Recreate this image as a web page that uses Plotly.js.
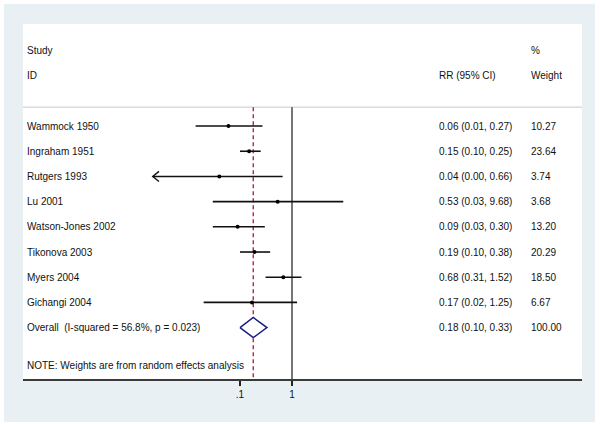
<!DOCTYPE html>
<html>
<head>
<meta charset="utf-8">
<script src="https://cdn.plot.ly/plotly-3.0.1.min.js"></script>
<style>
  body { margin: 0; background: #ffffff; }
  #forest { position: absolute; left: 4px; top: 4px; width: 591px; height: 418px; }
</style>
</head>
<body>
<div id="forest"></div>
<script>
// Study data (risk ratios)
const studies = ["Wammock 1950", "Ingraham 1951", "Rutgers 1993", "Lu 2001",
                 "Watson-Jones 2002", "Tikonova 2003", "Myers 2004", "Gichangi 2004"];
const rr    = [0.06, 0.15, 0.04, 0.53, 0.09, 0.19, 0.68, 0.17];
const lower = [0.014, 0.10, 0.001, 0.03, 0.03, 0.10, 0.31, 0.02];
const upper = [0.27, 0.25, 0.66, 9.68, 0.30, 0.38, 1.52, 1.25];
const weights = [10.27, 23.64, 3.74, 3.68, 13.20, 20.29, 18.50, 6.67];

const overallLabel = "Overall  (I-squared = 56.8%, p = 0.023)";
const overallRR = 0.18, overallLo = 0.10, overallHi = 0.33, overallW = 100.00;
const noteText = "NOTE: Weights are from random effects analysis";

const tickVals = [0.1, 1];
const tickText = [".1", "1"];

// display limits
const clipMin = 0.0021;
const xRange = [-5.173, 5.577];
const yRange = [11.04, -3.05];
const txtFont = { family: "Liberation Sans, Arial, sans-serif", size: 10, color: "#111" };

const rows = studies.map((s, i) => i + 1);
const overallRow = studies.length + 1;
const noteRow = overallRow + 1.5;

// CI lines, with an arrow where the interval runs off the left edge
const ciX = [], ciY = [];
const arrX = [], arrY = [];
rows.forEach((r, i) => {
  const lo = Math.max(lower[i], clipMin);
  ciX.push(lo, upper[i], null);
  ciY.push(r, r, null);
  if (lower[i] < clipMin) {
    const back = clipMin * Math.pow(10, 0.12);
    arrX.push(back, clipMin, back, null);
    arrY.push(r - 0.2, r, r + 0.2, null);
  }
});

const traces = [
  { x: ciX, y: ciY, mode: "lines", line: { color: "#111", width: 1.6 }, hoverinfo: "skip" },
  { x: arrX, y: arrY, mode: "lines", line: { color: "#111", width: 1.4 }, hoverinfo: "skip" },
  { x: rr, y: rows, mode: "markers", marker: { color: "#000", size: 4 } },
  {
    x: [overallLo, overallRR, overallHi, overallRR, overallLo],
    y: [overallRow, overallRow - 0.4, overallRow, overallRow + 0.4, overallRow],
    mode: "lines", fill: "toself", fillcolor: "#ffffff",
    line: { color: "#1c1c80", width: 1.5 }, hoverinfo: "skip"
  }
];

const fmt = v => v.toFixed(2);
const annotations = [];
function addText(xp, y, text) {
  annotations.push({ xref: "paper", yref: "y", x: xp, y: y, text: text, showarrow: false,
                     xanchor: "left", yanchor: "middle", font: txtFont });
}
addText(0.004, -2, "Study");
addText(0.004, -1, "ID");
addText(0.905, -2, "%");
addText(0.741, -1, "RR (95% CI)");
addText(0.905, -1, "Weight");
studies.forEach((s, i) => {
  addText(0.004, rows[i], s);
  addText(0.741, rows[i], `${fmt(rr[i])} (${fmt(lower[i])}, ${fmt(upper[i])})`);
  addText(0.905, rows[i], fmt(weights[i]));
});
addText(0.004, overallRow, overallLabel);
addText(0.741, overallRow, `${fmt(overallRR)} (${fmt(overallLo)}, ${fmt(overallHi)})`);
addText(0.905, overallRow, fmt(overallW));
addText(0.004, noteRow, noteText);

const shapes = [
  // header separator
  { type: "line", xref: "paper", yref: "y", x0: 0, x1: 1, y0: 0.25, y1: 0.25,
    line: { color: "#c8c8c8", width: 1 }, layer: "below" },
  // no-effect line
  { type: "line", xref: "x", yref: "y", x0: 1, x1: 1, y0: 0.25, y1: yRange[0],
    line: { color: "#1a1a1a", width: 1.2 }, layer: "below" },
  // overall estimate
  { type: "line", xref: "x", yref: "y", x0: overallRR, x1: overallRR, y0: 0.25, y1: yRange[0],
    line: { color: "#b02c40", width: 1.4, dash: "4px,3px" }, layer: "below" }
];

const layout = {
  width: 591, height: 418,
  margin: { l: 19, r: 13, t: 20, b: 43 },
  paper_bgcolor: "#e9f0f3",
  plot_bgcolor: "#ffffff",
  showlegend: false,
  xaxis: {
    type: "log", range: xRange, tickvals: tickVals, ticktext: tickText,
    ticks: "outside", ticklen: 5, tickcolor: "#222", tickwidth: 1.2,
    showline: true, linecolor: "#3a3a3a", linewidth: 1.6,
    showgrid: false, zeroline: false, fixedrange: true,
    tickfont: txtFont
  },
  yaxis: {
    range: yRange, showticklabels: false, showgrid: false, zeroline: false,
    showline: false, ticks: "", fixedrange: true
  },
  annotations: annotations,
  shapes: shapes
};

Plotly.newPlot("forest", traces, layout, { displayModeBar: false, staticPlot: true });
</script>
</body>
</html>
